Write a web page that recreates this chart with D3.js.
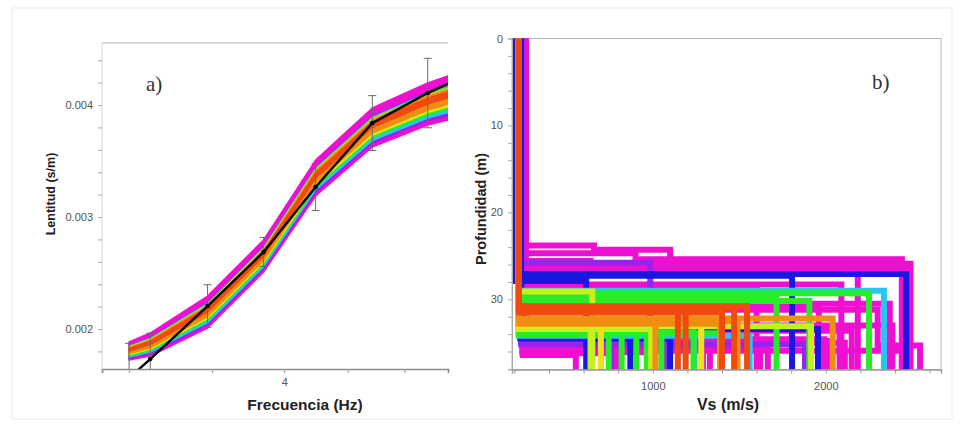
<!DOCTYPE html>
<html><head><meta charset="utf-8">
<script src="https://cdn.jsdelivr.net/npm/d3@7"></script>
<style>
html,body{margin:0;padding:0;background:#fff;}
svg{display:block;}
</style></head>
<body>
<svg id="chart" width="970" height="424"></svg>
<script>
// ---------------- DATA: panel a) dispersion curves ----------------
const bandFreq = [3.0, 3.12, 3.47, 3.85, 4.24, 4.71, 5.22, 5.42];
const magentaHi = [0.0018839, 0.0019643, 0.0022946, 0.0027946, 0.0035089, 0.0039732, 0.0041964, 0.0042589];
const magentaLo = [0.0017232, 0.0017589, 0.0020089, 0.0025089, 0.0031875, 0.0036250, 0.0038214, 0.0038661];
const blueHi    = [0.0018486, 0.0019187, 0.0022321, 0.0027321, 0.0034384, 0.0038964, 0.0041143, 0.0041723];
const blueLo    = [0.0017393, 0.0017795, 0.0020375, 0.0025375, 0.0032196, 0.0036598, 0.0038589, 0.0039054];
const cyanHi    = [0.0018455, 0.0019152, 0.0022259, 0.0027259, 0.0034321, 0.0038893, 0.0041063, 0.0041643];
const cyanLo    = [0.0017509, 0.0017937, 0.0020571, 0.0025571, 0.0032420, 0.0036839, 0.0038848, 0.0039330];
const greenHi   = [0.0018420, 0.0019107, 0.0022205, 0.0027205, 0.0034250, 0.0038830, 0.0040991, 0.0041571];
const greenLo   = [0.0017616, 0.0018080, 0.0020777, 0.0025777, 0.0032643, 0.0037089, 0.0039116, 0.0039607];
const yellowHi  = [0.0018393, 0.0019071, 0.0022143, 0.0027143, 0.0034187, 0.0038759, 0.0040911, 0.0041491];
const yellowLo  = [0.0017714, 0.0018205, 0.0020946, 0.0025946, 0.0032839, 0.0037295, 0.0039339, 0.0039839];
const orangeHi  = [0.0018357, 0.0019027, 0.0022089, 0.0027089, 0.0034125, 0.0038687, 0.0040839, 0.0041411];
const orangeLo  = [0.0017812, 0.0018330, 0.0021116, 0.0026116, 0.0033036, 0.0037500, 0.0039562, 0.0040071];
const redHi     = [0.0018259, 0.0018902, 0.0021920, 0.0026920, 0.0033929, 0.0038482, 0.0040616, 0.0041179];
const redLo     = [0.0018036, 0.0018616, 0.0021518, 0.0026518, 0.0033482, 0.0037991, 0.0040089, 0.0040625];

const obsFreq = [3.0, 3.12, 3.47, 3.85, 4.24, 4.71, 5.22, 5.75];
const obsSlow = [0.001562, 0.001732, 0.002205, 0.002688, 0.003268, 0.003839, 0.004107, 0.00432];
const obsErr  = [0.00031, 0.00023, 0.00019, 0.00013, 0.00021, 0.000245, 0.00031, 0.00031];

const freqTicks = [3, 3.5, 4, 4.5, 5];
const freqLabels = [4];
const slowTicks = [0.0018, 0.002, 0.0022, 0.0024, 0.0026, 0.0028, 0.003, 0.0032, 0.0034, 0.0036, 0.0038, 0.004, 0.0042, 0.0044];
const slowLabels = [0.002, 0.003, 0.004];

// ---------------- DATA: panel b) Vs profiles [Vs1, depth1, Vs2, depth2, Vs3 ...] ----------------
const magentaProfiles = [
  [263, 23.8, 660, 24.3, 1100, 25.9, 2490],
  [263, 24.7, 900, 25.4, 2440],
  [263, 25.6, 640, 26.0, 2440],
  [263, 26.4, 2470],
  [263, 26.7, 2185],
  [263, 28.3, 2090],
  [263, 28.6, 1600],
  [263, 30.5, 2370],
  [263, 30.7, 1960, 33.4, 2080],
  [263, 31.2, 2300, 35.3, 2545],
  [263, 33.0, 2385],
  [263, 33.6, 2150],
  [263, 34.6, 1990],
  [263, 34.8, 2020],
  [263, 35.0, 2110],
  [263, 35.3, 1620],
  [263, 35.4, 1665],
  [263, 35.6, 1330],
  [263, 35.7, 1290],
  [248, 35.9, 2440],
  [248, 36.4, 555],
  [248, 36.0, 700],
  [248, 36.2, 790],
  [248, 36.1, 1010]
];
const purpleProfiles = [
  [200, 25.8, 985],
  [240, 35.0, 1075],
  [240, 34.8, 760],
  [240, 35.2, 1880]
];
const blueProfiles = [
  [194, 27.1, 2465],
  [194, 27.9, 615],
  [194, 27.3, 1805],
  [235, 34.4, 870],
  [235, 34.5, 1100],
  [235, 33.4, 1955]
];
const cyanProfiles = [
  [226, 29.0, 2336],
  [226, 34.2, 1560],
  [226, 34.1, 1240]
];
const greenProfiles = [
  [226, 29.3, 2250],
  [226, 29.7, 1715],
  [226, 30.2, 1905],
  [226, 33.5, 820],
  [226, 33.7, 905],
  [226, 33.6, 965],
  [226, 33.8, 1235],
  [226, 33.9, 1390],
  [226, 34.0, 745],
  [226, 33.9, 1050]
];
const limeProfiles = [
  [226, 29.1, 650],
  [226, 33.3, 640],
  [226, 33.4, 990],
  [226, 33.1, 1915]
];
const yellowProfiles = [
  [226, 32.9, 1280],
  [226, 33.0, 700]
];
const orangeProfiles = [
  [226, 32.2, 2040],
  [226, 32.5, 1490],
  [226, 32.6, 1015],
  [226, 32.8, 1390]
];
const redProfiles = [
  [226, 30.8, 1545],
  [226, 31.1, 1145],
  [226, 31.3, 1190],
  [226, 31.5, 1400],
  [226, 31.0, 1470]
];

const vsTicks = [200, 400, 600, 800, 1000, 1200, 1400, 1600, 1800, 2000, 2200, 2400, 2600];
const vsLabels = [1000, 2000];
const depthTicks = [0, 2, 4, 6, 8, 10, 12, 14, 16, 18, 20, 22, 24, 26, 28, 30, 32, 34, 36, 38];
const depthLabels = [0, 10, 20, 30];

// ---------------- STYLE ----------------
const COL = {
  magenta: "#ee10d0", purple: "#9a22ee", blue: "#1a18de", cyan: "#26c6f2",
  green: "#26ee26", lime: "#c4f020", yellow: "#f0e21a", orange: "#f08e12", red: "#f04a10"
};
const FONT = "'Liberation Sans', Arial, sans-serif";

const svg = d3.select("#chart");
svg.append("rect").attr("x", 12).attr("y", 8).attr("width", 940).attr("height", 411)
  .attr("fill", "none").attr("stroke", "#ececec");

// =============== PANEL A ===============
const A = {l: 102, r: 448, t: 43, b: 369};
const xA = d3.scaleLog().domain([2.853, 5.42]).range([A.l, A.r]);
const yA = d3.scaleLinear().domain([0.001643, 0.004554]).range([A.b, A.t]);

svg.append("clipPath").attr("id", "clipA").append("rect")
  .attr("x", A.l).attr("y", A.t).attr("width", A.r - A.l).attr("height", A.b - A.t);

const gA = svg.append("g");
gA.append("line").attr("x1", A.l).attr("x2", A.r).attr("y1", A.t).attr("y2", A.t).attr("stroke", "#b0b0b0");
gA.append("line").attr("x1", A.l).attr("x2", A.l).attr("y1", A.t).attr("y2", A.b).attr("stroke", "#d8d8d8");

const bands = [
  {c: COL.magenta, hi: magentaHi, lo: magentaLo},
  {c: COL.purple, hi: blueHi, lo: blueLo},
  {c: COL.cyan, hi: cyanHi, lo: cyanLo},
  {c: COL.green, hi: greenHi, lo: greenLo},
  {c: COL.yellow, hi: yellowHi, lo: yellowLo},
  {c: COL.orange, hi: orangeHi, lo: orangeLo},
  {c: COL.red, hi: redHi, lo: redLo}
];
const area = d3.area().x(d => xA(d.f)).y0(d => yA(d.lo)).y1(d => yA(d.hi));
const gBand = gA.append("g").attr("clip-path", "url(#clipA)");
bands.forEach(b => {
  const pts = bandFreq.map((f, i) => ({f, hi: b.hi[i], lo: b.lo[i]}));
  gBand.append("path").attr("d", area(pts)).attr("fill", b.c)
    .attr("stroke", b.c).attr("stroke-width", 1.5).attr("stroke-linejoin", "round");
});

const obs = obsFreq.map((f, i) => ({f, s: obsSlow[i], e: obsErr[i]}));
const gErr = gA.append("g").attr("clip-path", "url(#clipA)").attr("stroke", "#6a6a6a").attr("stroke-width", 1);
obs.forEach(o => {
  const x = xA(o.f);
  gErr.append("line").attr("x1", x).attr("x2", x).attr("y1", yA(o.s - o.e)).attr("y2", yA(o.s + o.e));
  [o.s - o.e, o.s + o.e].forEach(v => {
    gErr.append("line").attr("x1", x - 4).attr("x2", x + 4).attr("y1", yA(v)).attr("y2", yA(v));
  });
});
const lineA = d3.line().x(d => xA(d.f)).y(d => yA(d.s));
const gObs = gA.append("g").attr("clip-path", "url(#clipA)");
gObs.append("path").attr("d", lineA(obs)).attr("fill", "none").attr("stroke", "#000").attr("stroke-width", 2.4);
gObs.selectAll("circle").data(obs).join("circle")
  .attr("cx", d => xA(d.f)).attr("cy", d => yA(d.s)).attr("r", 2.3).attr("fill", "#000");

const axA_x = d3.axisBottom(xA).tickValues(freqTicks).tickSize(4)
  .tickFormat(d => freqLabels.includes(d) ? d3.format("d")(d) : "");
const gAx = gA.append("g").attr("transform", `translate(0,${A.b})`).call(axA_x);
gAx.select(".domain").attr("stroke", "#8a8a8a").attr("stroke-width", 1.6);
gAx.selectAll(".tick line").attr("stroke", "#999");
gAx.selectAll("text").attr("font-family", FONT).attr("font-size", 11).attr("fill", "#555").attr("dy", "0.95em");

const axA_y = d3.axisLeft(yA).tickValues(slowTicks).tickSize(4)
  .tickFormat(d => slowLabels.some(v => Math.abs(v - d) < 1e-9) ? d3.format(".3f")(d) : "");
const gAy = gA.append("g").attr("transform", `translate(${A.l},0)`).call(axA_y);
gAy.select(".domain").remove();
gAy.selectAll(".tick line").attr("stroke", "#aaa");
gAy.selectAll("text").attr("font-family", FONT).attr("font-size", 11).attr("fill", "#555").attr("x", -9);

gA.append("text").attr("x", 305).attr("y", 410).attr("text-anchor", "middle")
  .attr("font-family", FONT).attr("font-weight", "bold").attr("font-size", 15.5).attr("fill", "#222")
  .text("Frecuencia (Hz)");
gA.append("text").attr("transform", "translate(55,194) rotate(-90)").attr("text-anchor", "middle")
  .attr("font-family", FONT).attr("font-weight", "bold").attr("font-size", 12.5).attr("fill", "#222")
  .text("Lentitud (s/m)");
gA.append("text").attr("x", 146).attr("y", 91)
  .attr("font-family", "'Liberation Serif', 'Times New Roman', serif").attr("font-size", 21).attr("fill", "#333")
  .text("a)");

// =============== PANEL B ===============
const B = {l: 512, r: 941, t: 38.5, b: 369.5};
const xB = d3.scaleLinear().domain([186, 2666]).range([B.l, B.r]);
const yB = d3.scaleLinear().domain([0, 38.07]).range([B.t, B.b]);

svg.append("clipPath").attr("id", "clipB").append("rect")
  .attr("x", B.l).attr("y", B.t).attr("width", B.r - B.l).attr("height", B.b - B.t);

const gB = svg.append("g");
gB.append("rect").attr("x", B.l).attr("y", B.t).attr("width", B.r - B.l).attr("height", B.b - B.t)
  .attr("fill", "none").attr("stroke", "#b8b8b8");

function profilePts(p) {
  const pts = [[p[0], 0]];
  for (let i = 1; i < p.length; i += 2) {
    pts.push([p[i - 1], p[i]]);
    pts.push([p[i + 1], p[i]]);
  }
  pts.push([p[p.length - 1], 40]);
  return pts;
}
const lineB = d3.line().x(d => xB(d[0])).y(d => yB(d[1]));
const gProf = gB.append("g").attr("clip-path", "url(#clipB)");
const groups = [
  [magentaProfiles, COL.magenta], [purpleProfiles, COL.purple], [blueProfiles, COL.blue],
  [cyanProfiles, COL.cyan], [greenProfiles, COL.green], [limeProfiles, COL.lime],
  [yellowProfiles, COL.yellow], [orangeProfiles, COL.orange], [redProfiles, COL.red]
];
groups.forEach(([list, c]) => {
  list.forEach(p => {
    gProf.append("path").attr("d", lineB(profilePts(p))).attr("fill", "none")
      .attr("stroke", c).attr("stroke-width", 6).attr("stroke-linejoin", "miter");
  });
});

const axB_x = d3.axisBottom(xB).tickValues(vsTicks).tickSize(4)
  .tickFormat(d => vsLabels.includes(d) ? d3.format("d")(d) : "");
const gBx = gB.append("g").attr("transform", `translate(0,${B.b})`).call(axB_x);
gBx.select(".domain").attr("stroke", "#999").attr("stroke-width", 1.4);
gBx.selectAll(".tick line").attr("stroke", "#999");
gBx.selectAll("text").attr("font-family", FONT).attr("font-size", 11).attr("fill", "#555").attr("dy", "1.2em");

const axB_y = d3.axisLeft(yB).tickValues(depthTicks).tickSize(4)
  .tickFormat(d => depthLabels.includes(d) ? d3.format("d")(d) : "");
const gBy = gB.append("g").attr("transform", `translate(${B.l},0)`).call(axB_y);
gBy.select(".domain").attr("stroke", "#aaa");
gBy.selectAll(".tick line").attr("stroke", "#aaa");
gBy.selectAll("text").attr("font-family", FONT).attr("font-size", 11).attr("fill", "#555").attr("x", -9);

gB.append("text").attr("x", 728).attr("y", 410).attr("text-anchor", "middle")
  .attr("font-family", FONT).attr("font-weight", "bold").attr("font-size", 16).attr("fill", "#222")
  .text("Vs (m/s)");
gB.append("text").attr("transform", "translate(486,209) rotate(-90)").attr("text-anchor", "middle")
  .attr("font-family", FONT).attr("font-weight", "bold").attr("font-size", 14.5).attr("fill", "#222")
  .text("Profundidad (m)");
gB.append("text").attr("x", 872).attr("y", 89)
  .attr("font-family", "'Liberation Serif', 'Times New Roman', serif").attr("font-size", 21).attr("fill", "#333")
  .text("b)");
</script>
</body></html>
